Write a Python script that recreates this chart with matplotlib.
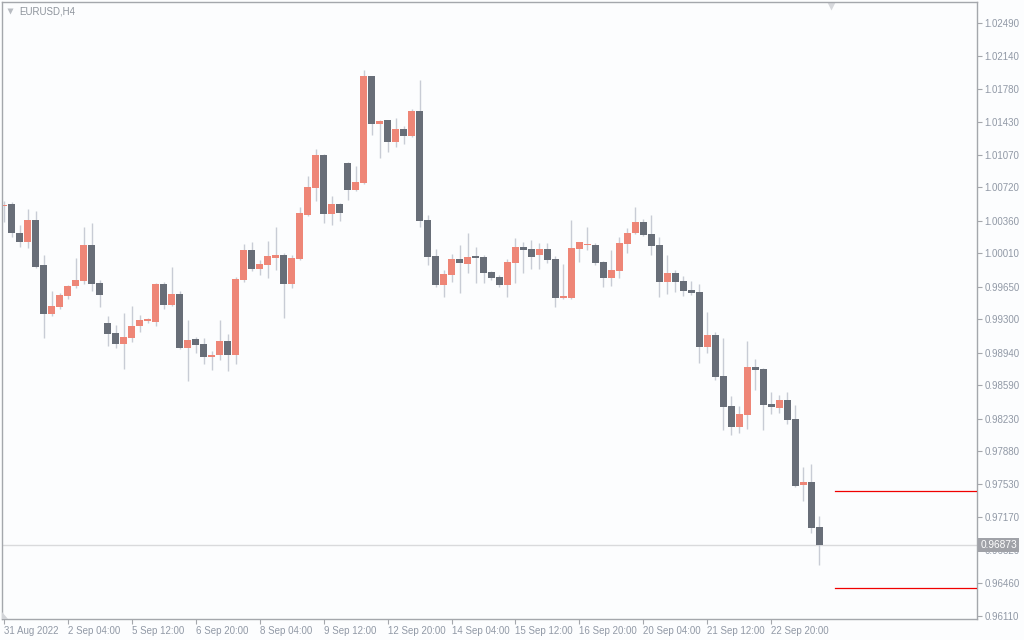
import numpy as np
import matplotlib
matplotlib.use("Agg")
import matplotlib.pyplot as plt
import matplotlib.transforms as mtransforms
from matplotlib.patches import Polygon

plt.rcParams['font.family'] = ['Liberation Sans', 'DejaVu Sans']

# EURUSD H4 candles, 31 Aug 2022 20:00 -> 23 Sep 2022
opens = [1.00521, 1.00543, 1.00231, 1.00137, 1.00371, 0.99887, 0.99362, 0.99438, 0.99556, 0.99661,
         0.99718, 1.00102, 0.99693, 0.99259, 0.99152, 0.99040, 0.99104, 0.99233, 0.99284, 0.99276,
         0.99682, 0.99456, 0.99575, 0.98997, 0.99090, 0.99037, 0.98900, 0.98921, 0.99069, 0.98921,
         0.99728, 1.00048, 0.99847, 0.99887, 0.99962, 0.99994, 0.99682, 0.99951, 1.00425, 1.00715,
         1.01070, 1.00435, 1.00543, 1.00984, 1.00694, 1.00769, 1.01920, 1.01404, 1.01447, 1.01210,
         1.01350, 1.01275, 1.01544, 1.00371, 0.99983, 0.99671, 0.99779, 0.99951, 0.99897, 0.99983,
         0.99973, 0.99811, 0.99757, 0.99671, 0.99908, 1.00080, 1.00059, 0.99994, 1.00059, 0.99951,
         0.99532, 0.99532, 1.00059, 1.00105, 1.00102, 0.99919, 0.99747, 0.99822, 1.00113, 1.00231,
         1.00349, 1.00220, 1.00102, 0.99704, 0.99801, 0.99714, 0.99618, 0.99596, 0.99004, 0.99133,
         0.98692, 0.98369, 0.98144, 0.98273, 0.98789, 0.98768, 0.98391, 0.98348, 0.98434, 0.98230,
         0.97519, 0.97552, 0.97068]
highs = [1.00575, 1.00565, 1.00317, 1.00489, 1.00468, 0.99994, 0.99607, 0.99588, 0.99671, 0.99965,
         1.00296, 1.00339, 0.99725, 0.99338, 0.99241, 0.99370, 0.99445, 0.99352, 0.99320, 0.99693,
         0.99704, 0.99865, 0.99607, 0.99295, 0.99115, 0.99101, 0.98961, 0.99295, 0.99144, 0.99761,
         1.00113, 1.00134, 0.99940, 1.00145, 1.00299, 1.00019, 0.99994, 1.00514, 1.00844, 1.01135,
         1.01080, 1.00629, 1.00548, 1.00995, 1.00952, 1.01985, 1.01925, 1.01447, 1.01450, 1.01468,
         1.01382, 1.01565, 1.01877, 1.00425, 1.00059, 0.99833, 1.00005, 1.00102, 1.00231, 1.00080,
         0.99994, 0.99825, 0.99779, 0.99951, 1.00177, 1.00134, 1.00156, 1.00126, 1.00126, 0.99983,
         0.99897, 1.00371, 1.00138, 1.00296, 1.00126, 0.99926, 1.00048, 1.00185, 1.00285, 1.00514,
         1.00382, 1.00425, 1.00191, 0.99994, 0.99833, 0.99768, 0.99714, 0.99682, 0.99381, 0.99166,
         0.99101, 0.98477, 0.98369, 0.99069, 0.98875, 0.98778, 0.98520, 0.98488, 0.98520, 0.98380,
         0.97713, 0.97745, 0.97186]
lows = [1.00349, 1.00188, 1.00083, 1.00073, 0.99854, 0.99104, 0.99341, 0.99416, 0.99521, 0.99636,
        0.99679, 0.99610, 0.99438, 0.99018, 0.98997, 0.98771, 0.99061, 0.99169, 0.99265, 0.99233,
        0.99416, 0.99445, 0.98983, 0.98638, 0.98943, 0.98821, 0.98757, 0.98864, 0.98749, 0.98825,
        0.99704, 0.99825, 0.99779, 0.99747, 0.99833, 0.99316, 0.99639, 0.99940, 1.00414, 1.00578,
        1.00339, 1.00317, 1.00360, 1.00586, 1.00683, 1.00760, 1.01285, 1.01038, 1.01103, 1.01156,
        1.01189, 1.01264, 1.00296, 0.99887, 0.99653, 0.99545, 0.99707, 0.99588, 0.99797, 0.99696,
        0.99690, 0.99725, 0.99653, 0.99545, 0.99690, 0.99804, 0.99847, 0.99844, 0.99905, 0.99438,
        0.99521, 0.99524, 0.99919, 1.00048, 0.99883, 0.99647, 0.99661, 0.99747, 1.00016, 1.00220,
        1.00199, 0.99994, 0.99545, 0.99575, 0.99599, 0.99553, 0.99564, 0.98832, 0.98940, 0.98649,
        0.98111, 0.98057, 0.98079, 0.98122, 0.98542, 0.98111, 0.98283, 0.98294, 0.98176, 0.97498,
        0.97347, 0.97003, 0.96659]
closes = [1.00532, 1.00231, 1.00137, 1.00371, 0.99868, 0.99362, 0.99445, 0.99564, 0.99661, 0.99725,
          1.00102, 0.99685, 0.99564, 0.99147, 0.99040, 0.99112, 0.99230, 0.99295, 0.99306, 0.99682,
          0.99456, 0.99575, 0.98997, 0.99080, 0.99029, 0.98900, 0.98921, 0.99069, 0.98921, 0.99736,
          1.00048, 0.99847, 0.99897, 0.99983, 0.99994, 0.99682, 0.99962, 1.00446, 1.00726, 1.01070,
          1.00435, 1.00543, 1.00446, 1.00694, 1.00780, 1.01920, 1.01404, 1.01436, 1.01210, 1.01350,
          1.01275, 1.01544, 1.00360, 0.99976, 0.99671, 0.99790, 0.99951, 0.99908, 0.99973, 0.99962,
          0.99801, 0.99747, 0.99671, 0.99919, 1.00080, 1.00048, 0.99973, 1.00059, 0.99940, 0.99532,
          0.99553, 1.00070, 1.00134, 1.00116, 0.99908, 0.99747, 0.99833, 1.00123, 1.00231, 1.00349,
          1.00209, 1.00091, 0.99704, 0.99801, 0.99704, 0.99610, 0.99588, 0.99004, 0.99133, 0.98682,
          0.98359, 0.98144, 0.98283, 0.98789, 0.98757, 0.98380, 0.98359, 0.98434, 0.98219, 0.97509,
          0.97552, 0.97057, 0.96873]

price_ticks = [1.02490, 1.02140, 1.01780, 1.01430, 1.01070, 1.00720, 1.00360, 1.00010, 0.99650,
               0.99300, 0.98940, 0.98590, 0.98230, 0.97880, 0.97530, 0.97170, 0.96820, 0.96460,
               0.96110]
time_labels = ['31 Aug 2022', '2 Sep 04:00', '5 Sep 12:00', '6 Sep 20:00', '8 Sep 04:00',
               '9 Sep 12:00', '12 Sep 20:00', '14 Sep 04:00', '15 Sep 12:00', '16 Sep 20:00',
               '20 Sep 04:00', '21 Sep 12:00', '22 Sep 20:00']
last_price = 0.96873
level_lines = [0.97454, 0.96411]

bg = '#fcfdfe'
up_col = '#ee8677'
down_col = '#686e78'
wick_col = '#c8ccd5'
frame_col = '#a4a7ac'
text_col = '#9199a6'

fig = plt.figure(figsize=(10.24, 6.4), dpi=100, facecolor=bg)
ax = fig.add_axes([2 / 1024, 1 - 619 / 640, 975 / 1024, 617 / 640], facecolor=bg)

o = np.array(opens)
h = np.array(highs)
l = np.array(lows)
c = np.array(closes)
x = np.arange(len(o))
up = c >= o

ax.vlines(x, l, h, color=wick_col, lw=1.0, zorder=1)
body_lo = np.minimum(o, c)
body_h = np.maximum(np.abs(c - o), 0.00012)
ax.bar(x[up], body_h[up], bottom=body_lo[up], width=0.85, color=up_col, lw=0, zorder=2)
ax.bar(x[~up], body_h[~up], bottom=body_lo[~up], width=0.85, color=down_col, lw=0, zorder=2)

xmin, xmax = -0.19, 121.69
ax.set_xlim(xmin, xmax)
ax.set_ylim(0.96077, 1.02716)

# current price line and level lines
ax.axhline(last_price, color='#d9dadc', lw=1.0, zorder=0)
for lv in level_lines:
    ax.plot([103.94, xmax], [lv, lv], color='#f00000', lw=0.9, zorder=3)

# axes styling
for s in ax.spines.values():
    s.set_color(frame_col)
    s.set_linewidth(1.0)
ax.yaxis.tick_right()
ax.set_yticks(price_ticks)
ax.set_yticklabels([f'{p:.5f}' for p in price_ticks])
ax.set_xticks(np.arange(0, len(o), 8)[:len(time_labels)])
ax.set_xticklabels(time_labels, ha='left')
ax.tick_params(axis='y', direction='out', length=3.5, width=0.8, color=frame_col,
               labelsize=7, labelcolor=text_col, pad=2)
ax.tick_params(axis='x', direction='out', length=3.5, width=0.8, color=frame_col,
               labelsize=7, labelcolor=text_col, pad=1.5)
for lab in ax.get_xticklabels():
    lab.set_horizontalalignment('left')

# last price tag on the axis (covers the 0.96820 label, as in the terminal)
ax.annotate(f'{last_price:.5f}', xy=(1.0, last_price), xycoords=('axes fraction', 'data'),
            xytext=(2.5, 0), textcoords='offset points', ha='left', va='center',
            fontsize=7.3, color='white', zorder=10, annotation_clip=False,
            bbox=dict(boxstyle='square,pad=0.2', fc='#a0a2a8', ec='none'))

# symbol caption
ax.text(17 / 975, 1 - 9 / 617, 'EURUSD,H4', transform=ax.transAxes, fontsize=7,
        color='#8e949c', ha='left', va='center')
ax.plot([8 / 975], [1 - 9 / 617], marker='v', ms=4, color='#b8bcc2', mec='none',
        transform=ax.transAxes, clip_on=False)

# chart-shift marker at the top and corner mark at bottom-left
trans = mtransforms.blended_transform_factory(ax.transData, ax.transAxes)
ax.plot([103.4], [1 - 4 / 617], marker='v', ms=6, color='#d6d8dc', mec='none',
        transform=trans, clip_on=False)
ax.add_patch(Polygon([[0, 0], [0, 7 / 617], [6 / 975, 0]], closed=True,
                     transform=ax.transAxes, fc='#d3d5d9', ec='none', zorder=4))

fig.savefig('out.png', dpi=100, facecolor=bg)
